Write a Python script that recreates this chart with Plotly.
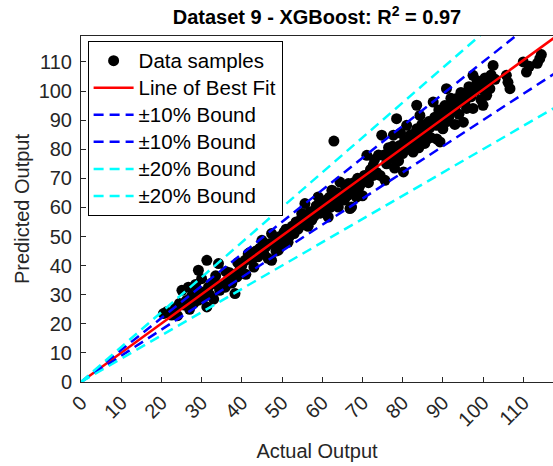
import plotly.graph_objects as go

# ---- data ----
actual = [20.5,21.3,22.5,23.5,24.0,25.1,25.5,26.2,26.7,27.0,27.5,28.0,28.5,29.2,29.2,29.8,30.0,30.5,31.3,31.3,
          31.7,32.0,32.5,33.0,33.5,34.2,34.5,35.0,35.9,36.5,37.0,37.5,38.3,38.8,39.5,40.0,40.8,41.0,41.6,42.5,
          43.0,43.5,44.0,45.0,45.5,
          24.5,28.8,33.8,36.0,39.0,42.0,
          46.0,46.5,47.4,47.4,48.0,48.5,49.1,49.5,50.0,50.8,51.0,51.5,52.0,52.5,53.0,53.5,54.0,54.9,55.0,55.7,
          56.0,56.5,57.0,57.4,58.0,58.5,59.0,59.5,60.0,60.5,61.0,61.5,62.0,62.4,62.9,63.0,63.5,64.0,64.4,65.0,
          65.5,66.0,66.5,66.9,67.3,67.5,68.0,68.5,69.0,69.4,69.8,70.0,
          44.5,46.8,48.8,50.5,51.8,53.2,54.5,55.5,56.8,58.2,59.2,60.8,61.8,62.6,63.8,64.8,65.8,66.2,67.8,68.8,
          70.5,71.1,71.5,72.0,72.7,72.7,73.0,73.5,74.0,74.4,74.8,75.2,75.6,76.0,76.5,77.0,77.7,78.0,78.5,78.5,
          79.0,79.3,79.5,80.0,80.2,80.5,81.0,81.5,82.0,82.6,83.0,83.5,83.5,84.0,84.3,84.5,85.0,85.5,86.0,86.5,
          87.0,87.6,88.0,88.4,88.5,89.0,89.3,89.5,90.0,90.5,90.9,91.0,91.8,92.0,92.5,93.0,93.4,94.0,94.5,95.1,
          95.5,95.9,96.5,97.0,97.5,97.5,98.0,98.5,99.2,99.5,100.0,100.5,100.9,101.7,102.5,103.0,105.8,106.2,106.7,
          110.0,110.8,111.5,113.5,114.1,114.5,
          76.8,77.5,78.2,80.8,81.8,83.2,84.8,85.8,86.8,87.8,89.8,91.5,93.2,94.8,96.2,98.8,99.8,101.2,102.0]
predicted = [23.5,24.1,23.0,25.5,22.8,31.5,26.5,28.0,32.6,25.0,29.5,27.0,33.5,38.4,28.1,31.0,35.5,29.0,41.8,25.8,
             32.6,30.0,34.0,28.5,36.5,40.7,31.5,33.0,32.6,35.0,37.5,34.0,30.4,36.1,38.5,40.0,41.8,37.0,44.1,42.0,
             39.5,45.0,43.0,48.7,44.0,
             27.0,30.5,33.5,38.0,41.0,44.5,
             46.5,42.5,51.0,41.8,48.0,45.0,45.3,50.0,47.5,49.8,52.5,48.0,50.5,53.5,51.0,55.0,52.5,57.9,54.0,61.3,
             56.0,53.5,58.5,55.6,57.0,60.5,63.6,58.0,61.0,59.0,62.5,56.7,60.0,65.9,82.8,63.0,61.0,60.1,68.7,64.5,
             62.5,66.0,68.2,59.6,60.1,65.0,67.0,63.5,66.5,67.6,69.3,64.0,
             46.0,47.5,49.5,51.5,50.0,53.0,55.5,56.5,57.0,58.5,60.0,62.0,63.5,62.0,65.0,63.0,67.0,64.0,68.5,70.0,
             71.0,77.9,68.5,73.0,74.5,71.0,76.5,72.0,78.0,71.0,84.8,77.9,69.3,75.0,80.5,77.0,84.8,73.5,90.5,79.5,
             76.0,81.3,85.5,78.5,72.2,83.0,88.2,80.0,85.0,79.0,82.5,95.1,87.0,80.5,91.6,84.0,86.5,82.0,85.9,89.5,
             84.0,96.2,91.0,88.2,83.5,93.5,82.5,90.0,87.0,95.0,100.8,89.5,92.8,97.5,94.5,88.5,97.4,92.0,99.5,89.3,
             96.0,94.0,101.5,98.0,94.0,105.4,100.0,103.5,103.1,97.0,95.1,104.5,98.5,100.8,108.8,104.0,105.4,103.0,100.8,
             110.0,106.5,108.5,109.5,111.1,112.5,
             78.5,81.0,76.5,82.0,84.0,85.5,88.5,83.0,87.5,89.0,92.5,91.0,95.0,96.5,98.5,101.0,100.5,102.5,105.5]

fit_slope = 1.005
fit_intercept = 0.0
line_x = [0, 125]
bound_10 = [1.1, 0.9]
bound_20 = [1.2, 0.8]
tick_vals = [0, 10, 20, 30, 40, 50, 60, 70, 80, 90, 100, 110]
tick_text = ["0", "10", "20", "30", "40", "50", "60", "70", "80", "90", "100", "110"]
x_range = [0, 117.4]
y_range = [0, 118.9]

FONT = "Liberation Sans, Arial, sans-serif"
AX = "#262626"


def lg(label):
    return '<span style="font-size:20.5px">' + label + '</span>'


fig = go.Figure()
fig.add_trace(go.Scatter(x=actual, y=predicted, mode="markers", name=lg("Data samples"),
                         marker=dict(color="black", size=11, line=dict(width=0))))
fig.add_trace(go.Scatter(x=line_x, y=[fit_slope * v + fit_intercept for v in line_x], mode="lines",
                         name=lg("Line of Best Fit"), line=dict(color="#ff0000", width=2.5)))
for f in bound_10:
    fig.add_trace(go.Scatter(x=line_x, y=[f * v for v in line_x], mode="lines", name=lg("±10% Bound"),
                             line=dict(color="#0000ff", width=2.5, dash="10px,6px")))
for f in bound_20:
    fig.add_trace(go.Scatter(x=line_x, y=[f * v for v in line_x], mode="lines", name=lg("±20% Bound"),
                             line=dict(color="#00ffff", width=2.5, dash="10px,6px")))

axis_common = dict(showgrid=False, zeroline=False, showline=True, linecolor=AX, linewidth=1,
                   ticks="inside", ticklen=5, tickcolor=AX, tickwidth=1,
                   tickfont=dict(family=FONT, size=20, color=AX),
                   tickvals=tick_vals, ticktext=tick_text)

fig.update_layout(
    width=553, height=466,
    margin=dict(l=81, r=0, t=36, b=84, autoexpand=False),
    paper_bgcolor="white", plot_bgcolor="white",
    title=dict(text="<b>Dataset 9 - XGBoost: R<sup>2</sup> = 0.97</b>",
               font=dict(family=FONT, size=20, color="black"),
               x=0.5, xref="paper", xanchor="center",
               y=1 - 17 / 466, yref="container", yanchor="middle"),
    xaxis=dict(range=x_range, mirror=True, tickangle=-45,
               title=dict(text="Actual Output", font=dict(family=FONT, size=20, color=AX), standoff=14),
               **axis_common),
    yaxis=dict(range=y_range, mirror=False, ticklabelstandoff=4,
               title=dict(text="Predicted Output", font=dict(family=FONT, size=20, color=AX), standoff=3),
               **axis_common),
    legend=dict(x=0.014, y=0.985, xanchor="left", yanchor="top",
                bgcolor="white", bordercolor="black", borderwidth=1,
                font=dict(family=FONT, size=18.5, color="black"),
                tracegroupgap=0, itemwidth=40),
    showlegend=True,
)

fig.write_html("out.html")
